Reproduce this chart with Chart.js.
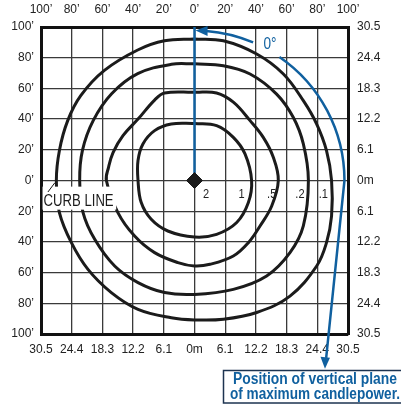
<!DOCTYPE html>
<html>
<head>
<meta charset="utf-8">
<script src="https://cdn.jsdelivr.net/npm/chart.js@4/dist/chart.umd.min.js"></script>
<style>
  html, body { margin: 0; padding: 0; background: #fff; }
  canvas { display: block; }
</style>
</head>
<body>
<canvas id="isoChart" width="401" height="404"></canvas>
<script>
// Tick labels: feet on top/left, metres on bottom/right (same on both sides of 0)
const footLabels = ['0\u2019', '20\u2019', '40\u2019', '60\u2019', '80\u2019', '100\u2019'];
const meterLabels = ['0m', '6.1', '12.2', '18.3', '24.4', '30.5'];

// Isofootcandle values, inner to outer
const isoValues = ['2', '1', '.5', '.2', '.1'];

// Contours, in feet from the pole (clockwise from top)
const iso1 = [[0, 37.2], [14.4, 35.7], [25.3, 28.1], [32.9, 17.3], [37.2, 0],
  [35.1, -14.4], [27.5, -27.4], [14.4, -35.1], [0, -36.8],
  [-17.4, -32.9], [-28.2, -25.3], [-34.7, -14.4], [-36.8, 0],
  [-36.8, 13], [-33.6, 23.8], [-26, 32.5], [-15.1, 36.8]];
const iso05 = [[0, 57.5], [14.4, 57], [25.3, 51], [36.2, 39], [44.8, 28.1], [51.4, 15], [54.6, 0],
  [50.3, -16.6], [42.7, -29.6], [35.1, -40.5], [25.3, -49.2], [10.1, -54.6], [0, -55.7],
  [-10.8, -53.5], [-26, -47], [-39, -36.2], [-49.9, -20.9], [-57.4, 0],
  [-56, 8.6], [-53, 18.3], [-46.6, 29.2], [-36.8, 40], [-26, 52.4], [-19.5, 57]];
const iso02 = [[0, 76], [18.8, 74.8], [36.2, 69.4], [53.5, 56.3], [64.4, 41], [70.9, 23.8], [74.2, 0],
  [70.9, -29.6], [62.2, -47], [47, -62.2], [25.3, -70.9], [0, -74.2],
  [-19.5, -73], [-36.8, -66.5], [-52, -55.7], [-65, -38.3], [-72.6, -20.9], [-74.8, 0],
  [-73, 19.6], [-66, 39], [-54, 56.5], [-37, 69.6], [-15, 75.7]];
const iso01 = [[0, 92.2], [18.8, 91], [40.5, 82.4], [57.9, 69.4], [70.9, 52], [79.6, 36.8], [86, 19.5], [89.3, 0],
  [89.3, -23.1], [86, -40.5], [79.6, -55.7], [62.2, -75.3], [40.5, -86], [18.8, -90.4], [0, -90.8],
  [-15.1, -89.4], [-36.8, -83.9], [-54.2, -73], [-69.4, -57.9], [-80.2, -40.5], [-88, -20.9], [-90, 0],
  [-88, 19.6], [-82.6, 39], [-74, 55.4], [-58.7, 71.7], [-37, 85], [-19.6, 91]];

const BLUE = '#10609f';
const FONT = "'Liberation Sans', Arial, sans-serif";

function toPoints(list) {
  // close the loop by repeating the first point
  const pts = list.map(function(p) { return { x: p[0], y: p[1] }; });
  pts.push(pts[0]);
  return pts;
}

function contour(list) {
  return {
    data: toPoints(list),
    showLine: true,
    borderColor: '#1b1b1b',
    borderWidth: 3,
    pointRadius: 0,
    tension: 0.38,
    order: 3
  };
}

// fixed axis sizes so the plot box lands where it does in the picture
function fixSize(size) {
  return function(axis) {
    if (axis.isHorizontal()) axis.height = size; else axis.width = size;
  };
}

// draw text squeezed to a given width (the original uses a narrow face)
function narrowText(ctx, text, x, y, width) {
  const w = ctx.measureText(text).width;
  ctx.save();
  ctx.translate(x, y);
  ctx.scale(width / w, 1);
  ctx.textAlign = 'center';
  ctx.fillText(text, 0, 0);
  ctx.restore();
}

// labels, arrows and the call-out box
const annotations = {
  id: 'annotations',
  afterDraw: function(chart) {
    const ctx = chart.ctx;
    const xs = chart.scales.x, ys = chart.scales.y;
    const px = function(v) { return xs.getPixelForValue(v); };
    const py = function(v) { return ys.getPixelForValue(v); };
    const unit = px(1) - px(0);
    const cx = px(0), cy = py(0);
    const d = Math.PI / 180;
    ctx.save();
    ctx.textBaseline = 'middle';

    // isofootcandle labels along the 0' row
    const labelX = [7.5, 30.7, 50.3, 68.7, 83.9];
    ctx.fillStyle = '#222';
    ctx.font = '13px ' + FONT;
    isoValues.forEach(function(v, i) {
      narrowText(ctx, v, px(labelX[i]), py(-9), ctx.measureText(v).width * 0.85);
    });

    // CURB LINE label on white with a leader line
    ctx.fillStyle = '#fff';
    ctx.fillRect(px(-99), py(-4), px(-51) - px(-99), py(-19) - py(-4));
    ctx.strokeStyle = '#111';
    ctx.lineWidth = 1;
    ctx.beginPath();
    ctx.moveTo(px(-95.5), py(-7.5));
    ctx.lineTo(px(-91), py(-1.5));
    ctx.stroke();
    ctx.fillStyle = '#1b1b1b';
    ctx.font = '16px ' + FONT;
    narrowText(ctx, 'CURB LINE', px(-75.5), py(-13.5), 70);

    // blue arc to 0 degrees
    const r = 97.7 * unit;
    ctx.strokeStyle = BLUE;
    ctx.fillStyle = BLUE;
    ctx.lineWidth = 2.5;
    ctx.beginPath();
    ctx.arc(cx, cy, r, -85.5 * d, -67 * d);
    ctx.stroke();
    // arrowhead pointing left into the vertical plane
    const tipA = 89.6 * d;
    const tx = cx + r * Math.cos(tipA), ty = cy - r * Math.sin(tipA);
    ctx.beginPath();
    ctx.moveTo(tx, ty);
    ctx.lineTo(tx + 12, ty - 4.5);
    ctx.lineTo(tx + 12, ty + 5.5);
    ctx.closePath();
    ctx.fill();

    ctx.font = '16px ' + FONT;
    narrowText(ctx, '0\u00b0', px(49.2), py(88.3), 13);

    // second arc and the leader down to the box
    const endX = px(85), endY = py(-122.7);
    ctx.beginPath();
    ctx.arc(cx, cy, r, -55.5 * d, 0);
    ctx.lineTo(endX + 1.2, endY - 11);
    ctx.stroke();
    ctx.beginPath();
    ctx.moveTo(endX, endY);
    ctx.lineTo(endX - 4.5, endY - 12);
    ctx.lineTo(endX + 5, endY - 11);
    ctx.closePath();
    ctx.fill();

    // call-out box
    ctx.strokeStyle = '#1d3350';
    ctx.lineWidth = 1.5;
    ctx.strokeRect(223.5, 370.5, 190, 32.5);
    ctx.fillStyle = BLUE;
    ctx.font = 'bold 16px ' + FONT;
    narrowText(ctx, 'Position of vertical plane', 315, 380, 164);
    narrowText(ctx, 'of maximum candlepower.', 315, 395, 170);
    ctx.restore();
  }
};

const axisBorder = { display: true, width: 3, color: '#111' };
const tickFont = { family: FONT, size: 12 };

new Chart(document.getElementById('isoChart'), {
  type: 'scatter',
  data: {
    datasets: [
      {
        // luminaire position
        data: [{ x: 0, y: 0 }],
        pointStyle: 'rectRot',
        pointRadius: 8,
        backgroundColor: '#1b1b1b',
        borderColor: '#1b1b1b',
        order: 0
      },
      {
        // vertical plane of maximum candlepower
        data: [{ x: 0, y: 0 }, { x: 0, y: 100 }],
        showLine: true,
        borderColor: BLUE,
        borderWidth: 2.5,
        pointRadius: 0,
        order: 1
      },
      contour(iso1),
      contour(iso05),
      contour(iso02),
      contour(iso01)
    ]
  },
  options: {
    responsive: false,
    devicePixelRatio: 1,
    animation: false,
    layout: { padding: 0 },
    plugins: {
      legend: { display: false },
      tooltip: { enabled: false }
    },
    scales: {
      x: {
        type: 'linear', position: 'bottom', min: -100, max: 100,
        afterFit: fixSize(70),
        border: axisBorder,
        grid: { color: '#3a3a3a', lineWidth: 1.3, drawTicks: false },
        ticks: {
          stepSize: 20, autoSkip: false, maxRotation: 0, padding: 8,
          color: '#222', font: tickFont,
          callback: function(v) { return meterLabels[Math.abs(v) / 20]; }
        }
      },
      x2: {
        type: 'linear', position: 'top', min: -100, max: 100,
        afterFit: fixSize(27),
        border: axisBorder,
        grid: { display: false, drawTicks: false },
        ticks: {
          stepSize: 20, autoSkip: false, maxRotation: 0, padding: 10,
          color: '#222', font: tickFont,
          callback: function(v) { return footLabels[Math.abs(v) / 20]; }
        }
      },
      y: {
        type: 'linear', position: 'left', min: -100, max: 100,
        afterFit: fixSize(41),
        border: axisBorder,
        grid: { color: '#3a3a3a', lineWidth: 1.3, drawTicks: false },
        ticks: {
          stepSize: 20, autoSkip: false, padding: 7,
          color: '#222', font: tickFont,
          callback: function(v) { return footLabels[Math.abs(v) / 20]; }
        }
      },
      y2: {
        type: 'linear', position: 'right', min: -100, max: 100,
        afterFit: fixSize(53),
        border: axisBorder,
        grid: { display: false, drawTicks: false },
        ticks: {
          stepSize: 20, autoSkip: false, padding: 9,
          color: '#222', font: tickFont,
          callback: function(v) { return meterLabels[Math.abs(v) / 20]; }
        }
      }
    }
  },
  plugins: [annotations]
});
</script>
</body>
</html>
